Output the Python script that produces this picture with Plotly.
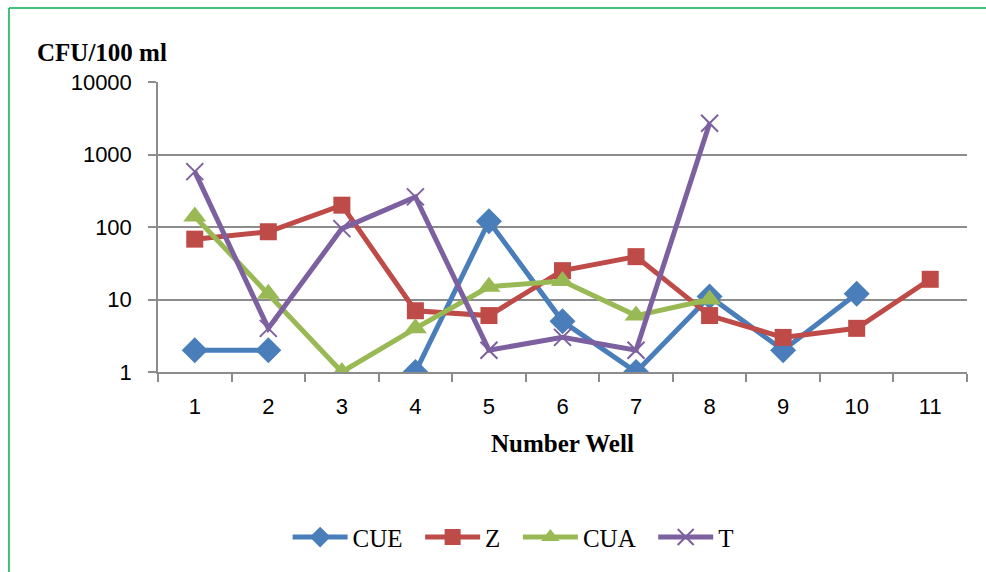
import plotly.graph_objects as go

wells = [str(i) for i in range(1, 12)]

cue = [2, 2, None, 1, 120, 5, 1, 11, 2, 12, None]
z = [68, 86, 200, 7, 6, 25, 39, 6, 3, 4, 19]
cua = [140, 12, 1, 4, 15, 18, 6, 10, None, None, None]
t = [580, 4, 95, 260, 2, 3, 2, 2700, None, None, None]

y_ticks = [1, 10, 100, 1000, 10000]
y_labels = ["1", "10", "100", "1000", "10000"]

series = [
    ("CUE", cue, "#4A7EBB", "diamond", 20, None),
    ("Z", z, "#BE4B48", "square", 17, None),
    ("CUA", cua, "#98B954", "triangle-up", 20, None),
    ("T", t, "#7D60A0", "x-thin-open", 17, 2),
]

fig = go.Figure()
for name, vals, color, sym, size, mlw in series:
    marker = dict(symbol=sym, size=size, color=color)
    if mlw:
        marker["line"] = dict(color=color, width=mlw)
    else:
        marker["line"] = dict(width=0)
    fig.add_trace(go.Scatter(
        x=wells, y=vals, name=name + "\u00a0\u00a0", mode="lines+markers",
        line=dict(color=color, width=5),
        marker=marker, connectgaps=False,
    ))

grid = "#8C8C8C"
tickfont = dict(family="Liberation Sans", size=22, color="black")
serif = dict(family="Liberation Serif", size=25, color="black")

fig.update_layout(
    width=986, height=572,
    margin=dict(l=158, r=19, t=82, b=200),
    paper_bgcolor="white", plot_bgcolor="white",
    showlegend=True,
    legend=dict(
        orientation="h", x=0.447, xanchor="center", y=-0.57, yanchor="middle",
        font=serif, itemwidth=55, tracegroupgap=0,
    ),
    xaxis=dict(
        type="category", tickson="boundaries", ticks="outside", ticklen=8,
        tickcolor=grid, tickwidth=1.5, showline=True, linecolor=grid, linewidth=1.5,
        showgrid=False, tickfont=tickfont, ticklabelstandoff=14,
        range=[-0.5, 10.5],
    ),
    yaxis=dict(
        type="log", range=[0, 4], tickvals=y_ticks, ticktext=y_labels,
        ticks="outside", ticklen=8, tickcolor=grid, tickwidth=1.5,
        showline=True, linecolor=grid, linewidth=1.5,
        showgrid=True, gridcolor=grid, gridwidth=1.5,
        tickfont=tickfont, ticklabelstandoff=12,
        zeroline=False,
    ),
    annotations=[
        dict(text="<b>CFU/100 ml</b>", xref="paper", yref="paper",
             x=-0.152, y=1.103, xanchor="left", yanchor="middle", showarrow=False,
             font=serif),
        dict(text="<b>Number Well</b>", xref="paper", yref="paper",
             x=0.5, y=-0.245, xanchor="center", yanchor="middle", showarrow=False,
             font=serif),
    ],
    shapes=[
        dict(type="line", xref="paper", yref="paper", x0=-0.1842, x1=1.05,
             y0=1.2552, y1=1.2552, line=dict(color="#00B050", width=1.5)),
        dict(type="line", xref="paper", yref="paper", x0=-0.1842, x1=-0.1842,
             y0=-1.0, y1=1.2552, line=dict(color="#00B050", width=1.5)),
    ],
)

fig.write_html("out.html")
